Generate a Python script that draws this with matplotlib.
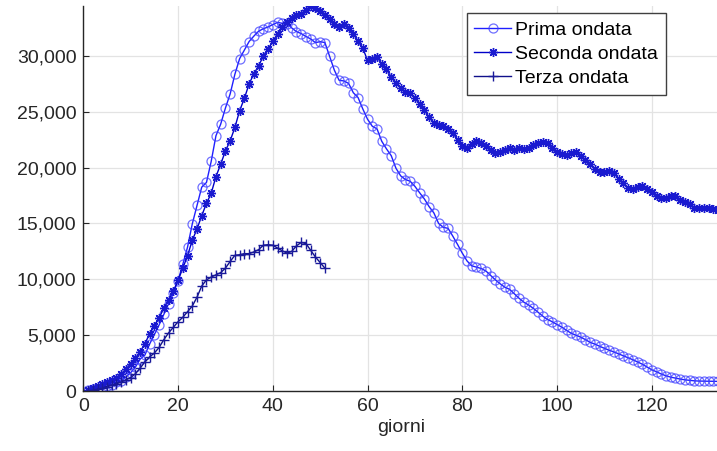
import matplotlib
matplotlib.use("Agg")
import matplotlib.pyplot as plt
from matplotlib.ticker import FuncFormatter
import numpy as np

plt.rcParams['font.family'] = ['Liberation Sans', 'DejaVu Sans']

# values in units of people
prima = [127, 150, 164, 304, 409, 506, 779, 908, 1263, 1641,
         2141, 2856, 3218, 4207, 5049, 5915, 6866, 7803, 8754, 9890,
         11335, 12876, 14954, 16620, 18255, 18675, 20565, 22855, 23896, 25333,
         26601, 28365, 29761, 30532, 31292, 31776, 32215, 32438, 32593, 32809,
         33004, 32926, 32874, 32510, 32178, 32004, 31739, 31525, 31190, 31283,
         31197, 29972, 28722, 27819, 27766, 27541, 26707, 26276, 25255, 24335,
         23706, 23474, 22362, 21679, 21073, 19944, 19263, 18935, 18781, 18324,
         17749, 17196, 16507, 15947, 15002, 14652, 14566, 13864, 13124, 12346,
         11647, 11208, 11086, 10969, 10740, 10340, 9945, 9597, 9290, 9100,
         8700, 8300, 7950, 7700, 7400, 7050, 6700, 6400, 6200, 5950,
         5720, 5430, 5170, 5000, 4820, 4600, 4350, 4200, 4000, 3820,
         3650, 3500, 3320, 3150, 2980, 2800, 2600, 2400, 2150, 1900,
         1720, 1520, 1360, 1240, 1150, 1070, 1000, 950, 910, 890,
         880, 870, 860, 860]

seconda = [80, 250, 420, 620, 850, 1000, 1180, 1550, 1950, 2450,
           2950, 3500, 4250, 5100, 5850, 6550, 7400, 8150, 8950, 9900,
           11000, 12100, 13500, 14500, 15700, 16800, 17700, 19200, 20300, 21500,
           22400, 23600, 25100, 26200, 27500, 28400, 29100, 30000, 30600, 31300,
           32000, 32600, 33000, 33400, 33700, 33800, 34100, 34500, 34300, 34000,
           33700, 33300, 32900, 32600, 32900, 32500, 32000, 31300, 30700, 29600,
           29700, 29900, 29300, 28800, 28100, 27600, 27100, 26800, 26650, 26200,
           25700, 25150, 24500, 24000, 23800, 23700, 23500, 23100, 22500, 21900,
           21800, 22100, 22400, 22200, 21900, 21600, 21300, 21400, 21600, 21800,
           21600, 21800, 21700, 21800, 22000, 22200, 22300, 22200, 21800, 21400,
           21200, 21150, 21300, 21400, 21000, 20700, 20300, 19850, 19600, 19600,
           19700, 19500, 19000, 18600, 18200, 18100, 18300, 18400, 18100, 17800,
           17500, 17300, 17250, 17500, 17450, 17100, 16900, 16700, 16400, 16350,
           16400, 16400, 16300, 16250]

terza = [0, 50, 150, 250, 400, 520, 650, 800, 1000, 1200,
         1550, 2050, 2600, 3050, 3400, 3900, 4600, 5200, 5700, 6200,
         6600, 7100, 7600, 8400, 9400, 9950, 10200, 10400, 10600, 11000,
         11600, 12150, 12200, 12300, 12300, 12450, 12650, 13050, 13100, 13050,
         12800, 12550, 12350, 12500, 13000, 13300, 13200, 12600, 12000, 11500,
         11000]

labels = ['Prima ondata', 'Seconda ondata', 'Terza ondata']
xlabel = 'giorni'
xticks = [0, 20, 40, 60, 80, 100, 120]
yticks = [0, 5000, 10000, 15000, 20000, 25000, 30000]

W, H = 717, 451
fig = plt.figure(figsize=(W / 100, H / 100), dpi=100)
x0, x1 = 83.3, 717 + 1.1
y0, y1 = 391, 5.7
ax = fig.add_axes([x0 / W, (H - y0) / H, (x1 - x0) / W, (y0 - y1) / H])

d1 = np.arange(1, len(prima) + 1)
d2 = np.arange(1, len(seconda) + 1)
d3 = np.arange(1, len(terza) + 1)

ax.plot(d1, prima, color='#1f1fff', lw=1.0, marker='o', ms=6.5,
        mfc='none', mec=(0.25, 0.25, 1.0, 0.75), mew=0.9, label=labels[0])
ax.plot(d2, seconda, color='#0000c8', lw=1.0, marker=(8, 2, 0), ms=6.5,
        mec='#1a1ad0', mew=1.0, label=labels[1])
ax.plot(d3, terza, color='#10108a', lw=1.0, marker='+', ms=7,
        mec='#1a1a9a', mew=1.0, label=labels[2])

ax.set_xlim(0, 134)
ax.set_ylim(0, 34500)
ax.set_xticks(xticks)
ax.set_yticks(yticks)
ax.yaxis.set_major_formatter(FuncFormatter(lambda v, p: f'{int(v):,}'))
ax.tick_params(direction='in', length=4, width=0.8, labelsize=14,
               colors='#262626', pad=5)
ax.grid(True, color='#e3e3e3', lw=0.9)
ax.set_axisbelow(True)
for s in ['top', 'right']:
    ax.spines[s].set_visible(False)
for s in ['left', 'bottom']:
    ax.spines[s].set_color('#262626')
    ax.spines[s].set_linewidth(1.0)
ax.set_xlabel(xlabel, fontsize=14, color='#262626', labelpad=3)

leg = ax.legend(loc='upper left', bbox_to_anchor=(466.7 / W, 1 - 13.3 / H),
                bbox_transform=fig.transFigure, fontsize=14, frameon=True,
                fancybox=False, edgecolor='#404040', framealpha=1,
                handlelength=1.9, handletextpad=0.2, borderpad=0.4,
                labelspacing=0.33, borderaxespad=0)
leg.get_frame().set_linewidth(1.0)

fig.savefig('out.png', dpi=100)
